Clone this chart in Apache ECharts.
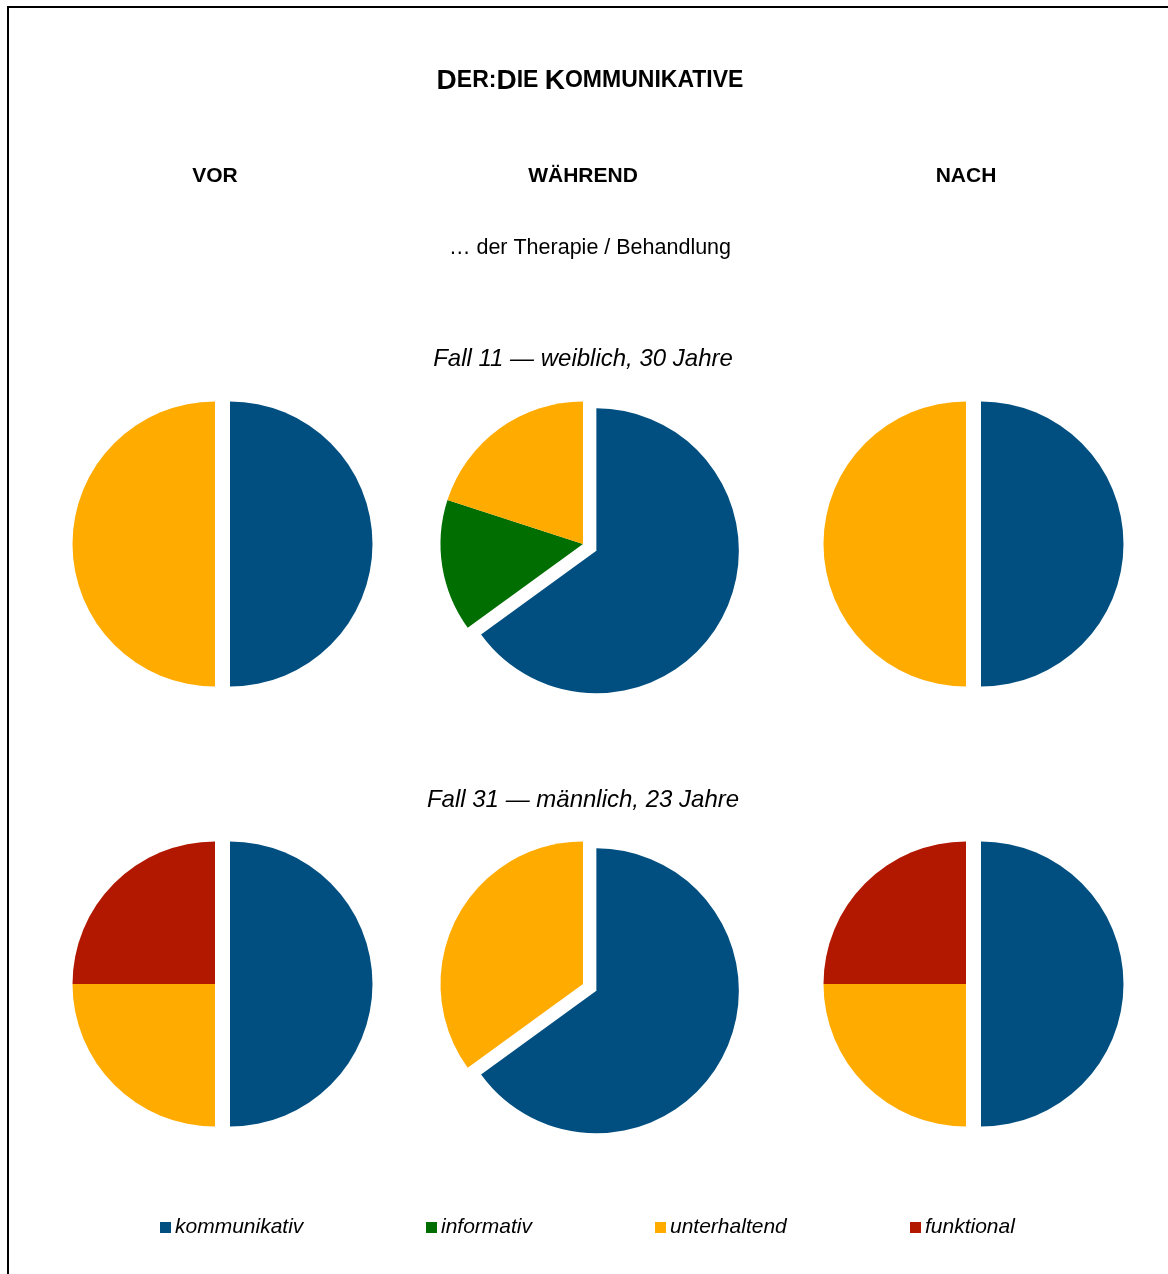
<!DOCTYPE html>
<html>
<head>
<meta charset="utf-8">
<title>Der:Die Kommunikative</title>
<script src="https://cdn.jsdelivr.net/npm/echarts@6/dist/echarts.min.js"></script>
<style>
  html, body { margin: 0; padding: 0; background: #fff; }
  #chart { width: 1168px; height: 1274px; }
</style>
</head>
<body>
<div id="chart"></div>
<script>
// Anteile der Kommunikationsarten je Phase (Prozent)
const categories = ['kommunikativ', 'informativ', 'unterhaltend', 'funktional'];
const colors = ['#004F80', '#006E00', '#FFAB00', '#B21800'];
const phases = ['VOR', 'WÄHREND', 'NACH'];
const cases = ['Fall 11 — weiblich, 30 Jahre', 'Fall 31 — männlich, 23 Jahre'];

const fall11Vor      = [50, 0, 50, 0];
const fall11Waehrend = [65, 15, 20, 0];
const fall11Nach     = [50, 0, 50, 0];
const fall31Vor      = [50, 0, 25, 25];
const fall31Waehrend = [65, 0, 35, 0];
const fall31Nach     = [50, 0, 25, 25];

const rows = [
  [fall11Vor, fall11Waehrend, fall11Nach],
  [fall31Vor, fall31Waehrend, fall31Nach]
];

// Layout
const colX = [215, 583, 966];
const rowY = [544, 984];
const caseLabelY = [359, 800];
const radius = 142.5;
const FONT = '"Liberation Sans", Arial, Helvetica, sans-serif';

const series = [];
rows.forEach((row, r) => {
  row.forEach((values, c) => {
    const data = [];
    values.forEach((v, i) => {
      if (v > 0) {
        data.push({
          name: categories[i],
          value: v,
          selected: i === 0,
          itemStyle: { color: colors[i] }
        });
      }
    });
    series.push({
      type: 'pie',
      center: [colX[c], rowY[r]],
      radius: radius,
      startAngle: 90,
      clockwise: true,
      selectedMode: 'multiple',
      selectedOffset: 15,
      avoidLabelOverlap: false,
      label: { show: false },
      labelLine: { show: false },
      itemStyle: { borderWidth: 0 },
      emphasis: { disabled: true },
      data: data
    });
  });
});

const graphic = [
  {
    type: 'polyline',
    silent: true,
    shape: { points: [[8, 1274], [8, 7], [1168, 7]] },
    style: { stroke: '#000', lineWidth: 2, fill: null }
  },
  {
    type: 'text',
    x: 590, y: 81,
    style: {
      text: '{b|D}{s|ER:}{b|D}{s|IE }{b|K}{s|OMMUNIKATIVE}',
      textAlign: 'center',
      textVerticalAlign: 'middle',
      rich: {
        b: { fontFamily: FONT, fontWeight: 'bold', fontSize: 28, fill: '#000' },
        s: { fontFamily: FONT, fontWeight: 'bold', fontSize: 23, fill: '#000' }
      }
    }
  },
  {
    type: 'text',
    x: 590, y: 248,
    style: {
      text: '… der Therapie / Behandlung',
      font: '21.5px ' + FONT,
      fill: '#000',
      textAlign: 'center',
      textVerticalAlign: 'middle'
    }
  }
];

phases.forEach((p, i) => {
  graphic.push({
    type: 'text',
    x: colX[i], y: 176,
    style: {
      text: p,
      font: 'bold 21px ' + FONT,
      fill: '#000',
      textAlign: 'center',
      textVerticalAlign: 'middle'
    }
  });
});

cases.forEach((t, i) => {
  graphic.push({
    type: 'text',
    x: 583, y: caseLabelY[i],
    style: {
      text: t,
      font: 'italic 24px ' + FONT,
      fill: '#000',
      textAlign: 'center',
      textVerticalAlign: 'middle'
    }
  });
});

// One legend block per category, spread across the bottom
const legendLeft = [160, 426, 655, 910];
const legend = categories.map((name, i) => ({
  data: [name],
  left: legendLeft[i],
  top: 1217,
  padding: 0,
  icon: 'rect',
  itemWidth: 11,
  itemHeight: 11,
  itemGap: 0,
  selectedMode: false,
  textStyle: {
    fontFamily: FONT,
    fontStyle: 'italic',
    fontSize: 21,
    color: '#000',
    padding: [0, 0, 0, -1]
  }
}));

const chart = echarts.init(document.getElementById('chart'), null, { renderer: 'canvas' });
chart.setOption({
  animation: false,
  backgroundColor: '#fff',
  color: colors,
  tooltip: { show: false },
  legend: legend,
  graphic: graphic,
  series: series
});
</script>
</body>
</html>
